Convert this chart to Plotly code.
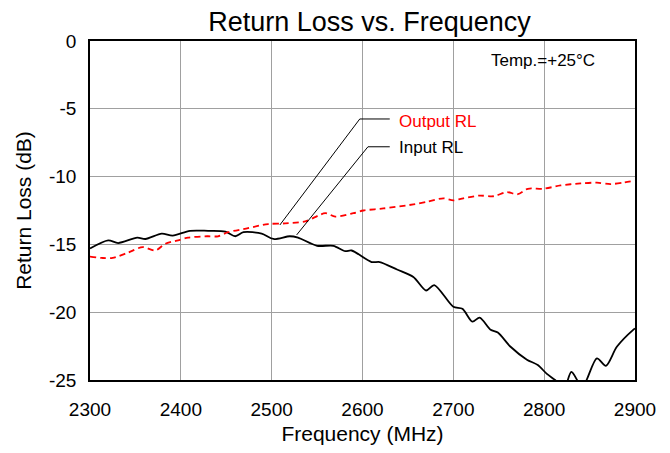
import plotly.graph_objects as go

freq_in = [2300, 2320, 2331, 2352, 2361, 2379, 2391, 2410, 2430, 2449, 2460, 2469, 2489, 2502, 2520, 2529,
           2550, 2568, 2581, 2588, 2610, 2619, 2638, 2656, 2670, 2679, 2700, 2710, 2721, 2729, 2741, 2749,
           2763, 2781, 2793, 2803, 2812, 2822, 2830, 2842, 2858, 2868, 2880, 2898, 2900]
rl_in = [-15.3, -14.7, -14.9, -14.5, -14.6, -14.2, -14.35, -14.0, -14.0, -14.05, -14.4, -14.1, -14.2, -14.6, -14.4, -14.5,
         -15.1, -15.1, -15.5, -15.45, -16.3, -16.3, -16.85, -17.4, -18.4, -18.0, -19.6, -19.75, -20.7, -20.4, -21.3, -21.5,
         -22.55, -23.5, -23.9, -24.55, -25.0, -25.6, -24.4, -25.5, -23.4, -23.95, -22.55, -21.3, -21.2]

freq_out = [2300, 2313, 2325, 2342, 2358, 2372, 2383, 2397, 2408, 2429, 2441, 2452, 2474, 2496, 2515, 2537,
            2559, 2570, 2590, 2601, 2623, 2656, 2671, 2689, 2700, 2711, 2729, 2744, 2759, 2771, 2782, 2799,
            2818, 2840, 2858, 2873, 2887, 2900]
rl_out = [-15.9, -16.0, -16.0, -15.6, -15.2, -15.45, -14.95, -14.7, -14.5, -14.4, -14.4, -14.1, -13.8, -13.5, -13.45, -13.3,
          -12.7, -12.95, -12.7, -12.5, -12.35, -12.05, -11.85, -11.6, -11.75, -11.6, -11.4, -11.45, -11.15, -11.3, -10.9, -10.9,
          -10.65, -10.5, -10.45, -10.55, -10.45, -10.3]

x_ticks = [2300, 2400, 2500, 2600, 2700, 2800, 2900]
y_ticks = [0, -5, -10, -15, -20, -25]
y_tick_text = ["0", "-5", "-10", "-15", "-20", "-25"]

font = "Liberation Sans, Arial, sans-serif"

fig = go.Figure()
fig.add_trace(go.Scatter(x=freq_in, y=rl_in, mode="lines", name="Input RL",
                         line=dict(color="black", width=1.8, shape="spline", smoothing=0.8)))
fig.add_trace(go.Scatter(x=freq_out, y=rl_out, mode="lines", name="Output RL",
                         line=dict(color="#ff0000", width=1.8, dash="6px,4px", shape="spline", smoothing=0.8)))

# leader lines
leader = dict(color="black", width=1)
fig.add_shape(type="line", x0=2509, y0=-13.57, x1=2597, y1=-5.75, line=leader)
fig.add_shape(type="line", x0=2597, y0=-5.75, x1=2630, y1=-5.75, line=leader)
fig.add_shape(type="line", x0=2527.5, y0=-14.3, x1=2606, y1=-7.8, line=leader)
fig.add_shape(type="line", x0=2606, y0=-7.8, x1=2630, y1=-7.8, line=leader)

fig.add_annotation(x=2638, y=-5.94, text="Output RL", showarrow=False, xanchor="left", yanchor="middle",
                   font=dict(family=font, size=17, color="#ff0000"))
fig.add_annotation(x=2638, y=-7.89, text="Input RL", showarrow=False, xanchor="left", yanchor="middle",
                   font=dict(family=font, size=17, color="black"))
fig.add_annotation(x=2799, y=-1.47, text="Temp.=+25°C", showarrow=False, xanchor="center", yanchor="middle",
                   font=dict(family=font, size=17, color="black"))

fig.update_layout(
    width=654, height=437,
    margin=dict(l=82, r=27, t=33, b=65),
    paper_bgcolor="white", plot_bgcolor="white",
    showlegend=False,
    title=dict(text="Return Loss vs. Frequency", xref="container", x=0.5528, xanchor="center",
               yref="container", y=0.969, yanchor="middle",
               font=dict(family=font, size=27, color="black")),
    font=dict(family=font, size=19, color="black"),
)
fig.update_xaxes(range=[2300, 2900], tickvals=x_ticks, showgrid=True, gridcolor="#a0a0a0", gridwidth=1,
                 showline=True, linecolor="black", linewidth=1.6, mirror=True, ticks="", automargin=False,
                 zeroline=False, title=dict(text="Frequency (MHz)", font=dict(size=21), standoff=15),
                 tickfont=dict(size=19), ticklabelstandoff=11)
fig.update_yaxes(range=[-25, 0], tickvals=y_ticks, ticktext=y_tick_text, showgrid=True, gridcolor="#a0a0a0",
                 gridwidth=1, showline=True, linecolor="black", linewidth=1.6, mirror=True, ticks="",
                 automargin=False,
                 zeroline=False, title=dict(text="Return Loss (dB)", font=dict(size=21), standoff=12),
                 tickfont=dict(size=19), ticklabelstandoff=8)

fig.write_html("out.html")
